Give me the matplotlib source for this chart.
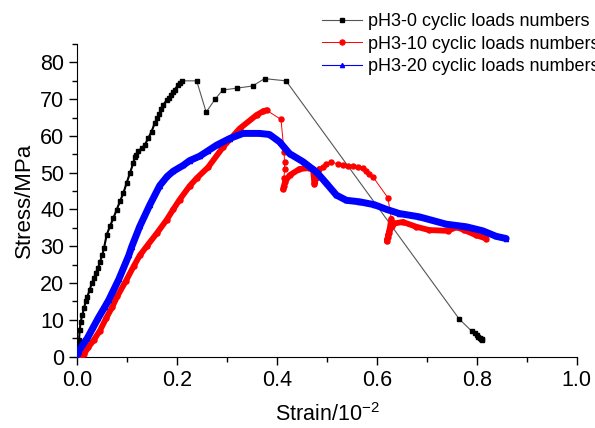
import numpy as np
import matplotlib.pyplot as plt

plt.rcParams['font.family'] = ['Liberation Sans', 'DejaVu Sans']

# pH3-0 cyclic loads (black squares)
x0 = [0.0, 0.001, 0.002, 0.0034, 0.0047, 0.0067, 0.010, 0.0134, 0.0167, 0.020,
      0.0247, 0.0287, 0.0334, 0.0367, 0.0414, 0.0454, 0.050, 0.0534, 0.0587, 0.0653,
      0.072, 0.0787, 0.0853, 0.092, 0.0987, 0.1053, 0.112, 0.1153, 0.1173, 0.122,
      0.1287, 0.1353, 0.142, 0.1487, 0.155, 0.160, 0.164, 0.168, 0.172, 0.179,
      0.183, 0.187, 0.191, 0.195, 0.202, 0.206, 0.210, 0.239, 0.258, 0.276,
      0.291, 0.319, 0.351, 0.375, 0.418, 0.765, 0.790, 0.796, 0.800, 0.803,
      0.806, 0.808, 0.810, 0.811]
y0 = [0.0, 1.5, 3.0, 4.5, 7.2, 9.5, 11.3, 13.2, 15.0, 16.3,
      18.1, 19.9, 21.3, 22.7, 24.0, 25.8, 27.7, 29.5, 33.1, 35.4,
      37.6, 39.9, 42.2, 44.4, 47.2, 49.9, 52.6, 54.4, 54.9, 55.8,
      56.7, 57.6, 59.4, 61.2, 63.5, 64.8, 66.0, 67.3, 68.5, 69.7,
      70.3, 71.2, 72.0, 72.6, 73.9, 74.5, 75.0, 75.0, 66.5, 70.0,
      72.5, 73.0, 73.6, 75.6, 75.0, 10.2, 6.9, 6.3, 5.8, 5.4,
      5.1, 4.9, 4.7, 4.6]

# pH3-10 cyclic loads (red circles)
x10 = [0.008, 0.013, 0.022, 0.033, 0.045, 0.058, 0.070, 0.080, 0.097, 0.113,
       0.125, 0.139, 0.159, 0.179, 0.192, 0.205, 0.225, 0.239, 0.262, 0.292,
       0.325, 0.359, 0.372, 0.379, 0.408, 0.414, 0.415, 0.415, 0.414, 0.413,
       0.412, 0.416, 0.425, 0.445, 0.465, 0.472, 0.475, 0.478, 0.485, 0.492,
       0.499, 0.509, 0.522, 0.532, 0.542, 0.552, 0.562, 0.572, 0.579, 0.585,
       0.592, 0.622, 0.629, 0.626, 0.622, 0.620, 0.624, 0.630, 0.635, 0.652,
       0.679, 0.705, 0.742, 0.760, 0.775, 0.799, 0.819]
y10 = [0.0, 0.6, 2.5, 4.5, 7.0, 10.5, 13.5, 16.4, 20.5, 24.6,
       27.5, 30.0, 33.5, 37.2, 40.0, 42.7, 46.4, 48.5, 51.5, 57.0,
       62.0, 65.7, 66.7, 67.0, 64.5, 55.7, 53.0, 51.0, 48.5, 46.5,
       45.5, 47.5, 49.3, 51.0, 51.3, 51.0, 46.8, 48.5, 51.0, 51.6,
       52.5, 53.0, 52.3, 52.1, 51.9, 51.9, 51.6, 51.2, 50.4, 49.6,
       48.9, 43.2, 37.5, 35.0, 32.5, 31.3, 33.5, 35.6, 36.2, 36.6,
       35.3, 34.4, 34.2, 35.2, 34.4, 33.0, 32.1]

# pH3-20 cyclic loads (blue triangles)
x20 = [0.0, 0.003, 0.010, 0.020, 0.032, 0.042, 0.055, 0.063, 0.083, 0.103,
       0.109, 0.125, 0.145, 0.165, 0.180, 0.192, 0.212, 0.225, 0.245, 0.262,
       0.279, 0.305, 0.332, 0.365, 0.385, 0.405, 0.425, 0.452, 0.479, 0.499,
       0.519, 0.539, 0.565, 0.595, 0.620, 0.645, 0.685, 0.739, 0.779, 0.812,
       0.839, 0.859]
y20 = [0.0, 1.5, 3.0, 5.0, 8.0, 10.5, 13.5, 15.4, 21.0, 27.5,
       29.9, 35.4, 41.2, 46.5, 49.0, 50.4, 52.0, 53.3, 54.5, 56.0,
       57.5, 59.3, 60.7, 60.7, 60.4, 58.4, 55.2, 53.0, 50.2, 47.1,
       43.9, 42.5, 42.1, 41.3, 40.0, 38.9, 38.0, 36.0, 35.3, 34.2,
       32.7, 32.1]

labels = ['pH3-0 cyclic loads numbers', 'pH3-10 cyclic loads numbers',
          'pH3-20 cyclic loads numbers']

fig = plt.figure(figsize=(5.95, 4.28), dpi=100)
ax = fig.add_axes([0.13, 0.167, 0.839, 0.73])

# black: thin grey line + squares
ax.plot(x0, y0, color='#555555', lw=0.8, marker='s', ms=3.2,
        mfc='black', mec='black', label=labels[0], zorder=2)
ax.plot(x0[:47], y0[:47], color='black', lw=1.5, zorder=2)

# red: dense parts drawn thick
ax.plot(x10, y10, color='red', lw=0.7, marker='o', ms=3.6, mec='red',
        label=labels[1], zorder=3)
for a, b in [(0, 24), (30, 39), (52, 67)]:
    ax.plot(x10[a:b], y10[a:b], color='red', lw=4.2,
            solid_capstyle='round', zorder=3)

# blue: dense band
ax.plot(x20, y20, color='blue', lw=5, solid_capstyle='round', zorder=4)
ax.plot(x20, y20, color='blue', lw=0.8, marker='^', ms=3, mec='blue',
        label=labels[2], zorder=4)

ax.set_xlim(0, 1.0)
ax.set_ylim(0, 85)
ax.set_xticks(np.arange(0, 1.01, 0.2))
ax.set_xticks(np.arange(0, 1.01, 0.1), minor=True)
ax.set_yticks(np.arange(0, 81, 10))
ax.set_yticks(np.arange(0, 86, 5), minor=True)
ax.xaxis.set_major_formatter(plt.FormatStrFormatter('%.1f'))
ax.spines['top'].set_visible(False)
ax.spines['right'].set_visible(False)
ax.tick_params(which='major', direction='out', length=6, width=1,
               labelsize=15.5)
ax.tick_params(which='minor', direction='out', length=3.5, width=1)
ax.set_xlabel('Strain/10$^{\\mathregular{-2}}$', fontsize=15.5, labelpad=9)
ax.set_ylabel('Stress/MPa', fontsize=16, labelpad=4)

fig.legend(loc='upper left', bbox_to_anchor=(0.541, 0.969), frameon=False,
           fontsize=13, handlelength=2.2, handletextpad=0.35,
           labelspacing=0.3, borderpad=0, borderaxespad=0)

fig.savefig('out.png', dpi=100)
